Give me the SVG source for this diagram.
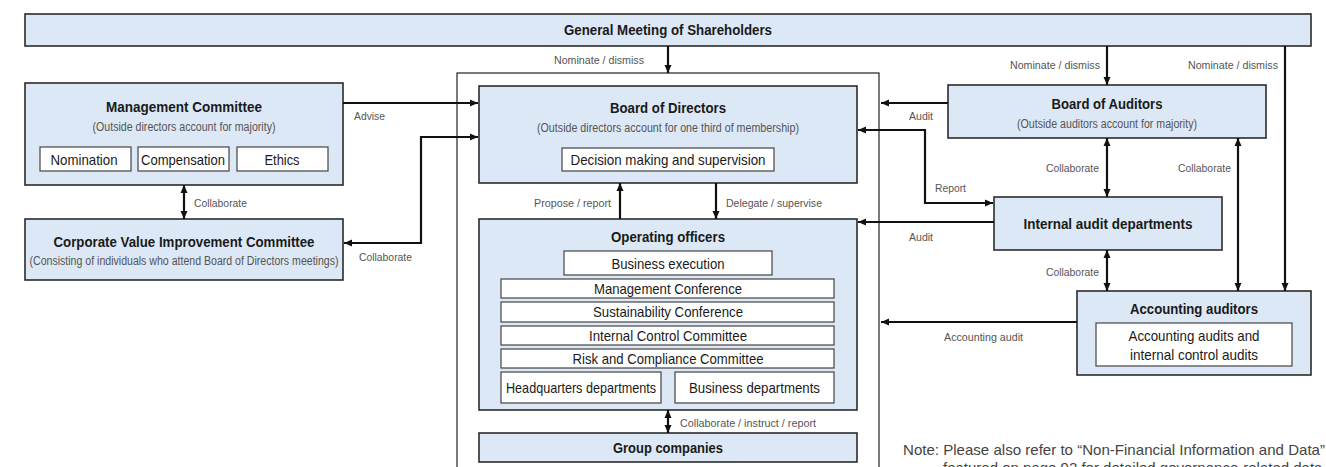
<svg xmlns="http://www.w3.org/2000/svg" width="1326" height="467" viewBox="0 0 1326 467">
<style>
  .box { fill:#dce8f5; stroke:#2b2b2b; stroke-width:1.6 }
  .inner { fill:#ffffff; stroke:#444; stroke-width:1.2 }
  .frame { fill:none; stroke:#333; stroke-width:1.3 }
  text { font-family:"Liberation Sans",Arial,sans-serif }
  .title { font-weight:bold; font-size:14px; fill:#1a1a1a; text-anchor:middle }
  .sub { font-size:12px; fill:#555; text-anchor:middle }
  .item { font-size:15px; fill:#1a1a1a; text-anchor:middle }
  .lbl { font-size:11.5px; fill:#555 }
  .end { text-anchor:end }
  .note { font-size:15px; fill:#444 }
  .conn { stroke:#111; stroke-width:2.2; fill:none }
</style>
<defs>
  <marker id="ah" viewBox="0 0 8 8" refX="8" refY="4" markerWidth="8" markerHeight="8" markerUnits="userSpaceOnUse" orient="auto-start-reverse">
    <path d="M0,0.5 L8,4 L0,7.5 z" fill="#111"/>
  </marker>
</defs>

<rect class="frame" x="457" y="73" width="422" height="420"/>

<g id="general-meeting">
  <rect class="box" x="25" y="14" width="1286" height="32"/>
  <text class="title" x="668" y="35" textLength="208" lengthAdjust="spacingAndGlyphs">General Meeting of Shareholders</text>
</g>

<g id="management-committee">
  <rect class="box" x="25" y="83" width="318" height="102"/>
  <text class="title" x="184" y="112" textLength="156" lengthAdjust="spacingAndGlyphs">Management Committee</text>
  <text class="sub" x="184" y="131" textLength="183" lengthAdjust="spacingAndGlyphs">(Outside directors account for majority)</text>
  <rect class="inner" x="40" y="147" width="91" height="24"/>
  <text class="item" x="84" y="165" textLength="67" lengthAdjust="spacingAndGlyphs">Nomination</text>
  <rect class="inner" x="138" y="147" width="91" height="24"/>
  <text class="item" x="183" y="165" textLength="84" lengthAdjust="spacingAndGlyphs">Compensation</text>
  <rect class="inner" x="237" y="147" width="91" height="24"/>
  <text class="item" x="282" y="165" textLength="35" lengthAdjust="spacingAndGlyphs">Ethics</text>
</g>

<g id="corporate-value">
  <rect class="box" x="25" y="219" width="318" height="61"/>
  <text class="title" x="184" y="247" textLength="261" lengthAdjust="spacingAndGlyphs">Corporate Value Improvement Committee</text>
  <text class="sub" x="184" y="265" textLength="309" lengthAdjust="spacingAndGlyphs">(Consisting of individuals who attend Board of Directors meetings)</text>
</g>

<g id="board-of-directors">
  <rect class="box" x="479" y="86" width="378" height="97"/>
  <text class="title" x="668" y="113" textLength="116" lengthAdjust="spacingAndGlyphs">Board of Directors</text>
  <text class="sub" x="668" y="132" textLength="262" lengthAdjust="spacingAndGlyphs">(Outside directors account for one third of membership)</text>
  <rect class="inner" x="562" y="148" width="212" height="23"/>
  <text class="item" x="668" y="165" textLength="195" lengthAdjust="spacingAndGlyphs">Decision making and supervision</text>
</g>

<g id="operating-officers">
  <rect class="box" x="479" y="219" width="378" height="191"/>
  <text class="title" x="668" y="242" textLength="114" lengthAdjust="spacingAndGlyphs">Operating officers</text>
  <rect class="inner" x="564" y="251" width="208" height="24"/>
  <text class="item" x="668" y="269" textLength="113" lengthAdjust="spacingAndGlyphs">Business execution</text>
  <rect class="inner" x="501" y="279" width="333" height="19"/>
  <text class="item" x="668" y="294" textLength="148" lengthAdjust="spacingAndGlyphs">Management Conference</text>
  <rect class="inner" x="501" y="302" width="333" height="20"/>
  <text class="item" x="668" y="317" textLength="150" lengthAdjust="spacingAndGlyphs">Sustainability Conference</text>
  <rect class="inner" x="501" y="326" width="333" height="19"/>
  <text class="item" x="668" y="341" textLength="158" lengthAdjust="spacingAndGlyphs">Internal Control Committee</text>
  <rect class="inner" x="501" y="349" width="333" height="19"/>
  <text class="item" x="668" y="364" textLength="191" lengthAdjust="spacingAndGlyphs">Risk and Compliance Committee</text>
  <rect class="inner" x="501" y="372" width="160" height="31"/>
  <text class="item" x="581" y="393" textLength="150" lengthAdjust="spacingAndGlyphs">Headquarters departments</text>
  <rect class="inner" x="675" y="372" width="159" height="31"/>
  <text class="item" x="754.5" y="393" textLength="131" lengthAdjust="spacingAndGlyphs">Business departments</text>
</g>

<g id="group-companies">
  <rect class="box" x="479" y="433" width="378" height="29"/>
  <text class="title" x="668" y="453" textLength="110" lengthAdjust="spacingAndGlyphs">Group companies</text>
</g>

<g id="board-of-auditors">
  <rect class="box" x="948" y="85" width="318" height="53"/>
  <text class="title" x="1107" y="109" textLength="111" lengthAdjust="spacingAndGlyphs">Board of Auditors</text>
  <text class="sub" x="1107" y="128" textLength="180" lengthAdjust="spacingAndGlyphs">(Outside auditors account for majority)</text>
</g>

<g id="internal-audit">
  <rect class="box" x="994" y="197" width="228" height="53"/>
  <text class="title" x="1108" y="229" textLength="169" lengthAdjust="spacingAndGlyphs">Internal audit departments</text>
</g>

<g id="accounting-auditors">
  <rect class="box" x="1077" y="291" width="234" height="84"/>
  <text class="title" x="1194" y="314" textLength="128" lengthAdjust="spacingAndGlyphs">Accounting auditors</text>
  <rect class="inner" x="1096" y="323" width="196" height="43"/>
  <text class="item" x="1194" y="341" textLength="131" lengthAdjust="spacingAndGlyphs">Accounting audits and</text>
  <text class="item" x="1194" y="360" textLength="128" lengthAdjust="spacingAndGlyphs">internal control audits</text>
</g>

<g id="connectors">
  <path class="conn" d="M668,46 V73" marker-end="url(#ah)"/>
  <path class="conn" d="M1107,46 V85" marker-end="url(#ah)"/>
  <path class="conn" d="M1285,46 V291" marker-end="url(#ah)"/>
  <path class="conn" d="M343,103 H478" marker-end="url(#ah)"/>
  <path class="conn" d="M184,185 V219" marker-start="url(#ah)" marker-end="url(#ah)"/>
  <path class="conn" d="M478,137 H421 V243 H344" marker-start="url(#ah)" marker-end="url(#ah)"/>
  <path class="conn" d="M948,103 H881" marker-end="url(#ah)"/>
  <path class="conn" d="M858,130 H925 V203 H993" marker-start="url(#ah)" marker-end="url(#ah)"/>
  <path class="conn" d="M994,222 H858" marker-end="url(#ah)"/>
  <path class="conn" d="M1107,138 V197" marker-start="url(#ah)" marker-end="url(#ah)"/>
  <path class="conn" d="M1238,138 V291" marker-start="url(#ah)" marker-end="url(#ah)"/>
  <path class="conn" d="M1107,250 V291" marker-start="url(#ah)" marker-end="url(#ah)"/>
  <path class="conn" d="M1077,322 H881" marker-end="url(#ah)"/>
  <path class="conn" d="M620,219 V183" marker-end="url(#ah)"/>
  <path class="conn" d="M716,183 V219" marker-end="url(#ah)"/>
  <path class="conn" d="M668,410 V433" marker-start="url(#ah)" marker-end="url(#ah)"/>

  <text class="lbl end" x="644" y="64" textLength="90" lengthAdjust="spacingAndGlyphs">Nominate / dismiss</text>
  <text class="lbl end" x="1100" y="69" textLength="90" lengthAdjust="spacingAndGlyphs">Nominate / dismiss</text>
  <text class="lbl end" x="1278" y="69" textLength="90" lengthAdjust="spacingAndGlyphs">Nominate / dismiss</text>
  <text class="lbl" x="194" y="207" textLength="53" lengthAdjust="spacingAndGlyphs">Collaborate</text>
  <text class="lbl" x="354" y="120" textLength="31" lengthAdjust="spacingAndGlyphs">Advise</text>
  <text class="lbl" x="359" y="261" textLength="53" lengthAdjust="spacingAndGlyphs">Collaborate</text>
  <text class="lbl end" x="611" y="207" textLength="77" lengthAdjust="spacingAndGlyphs">Propose / report</text>
  <text class="lbl" x="726" y="207" textLength="96" lengthAdjust="spacingAndGlyphs">Delegate / supervise</text>
  <text class="lbl" x="680" y="427" textLength="136" lengthAdjust="spacingAndGlyphs">Collaborate / instruct / report</text>
  <text class="lbl" x="909" y="120" textLength="24" lengthAdjust="spacingAndGlyphs">Audit</text>
  <text class="lbl" x="935" y="192" textLength="31" lengthAdjust="spacingAndGlyphs">Report</text>
  <text class="lbl" x="909" y="241" textLength="24" lengthAdjust="spacingAndGlyphs">Audit</text>
  <text class="lbl end" x="1099" y="172" textLength="53" lengthAdjust="spacingAndGlyphs">Collaborate</text>
  <text class="lbl end" x="1231" y="172" textLength="53" lengthAdjust="spacingAndGlyphs">Collaborate</text>
  <text class="lbl end" x="1099" y="276" textLength="53" lengthAdjust="spacingAndGlyphs">Collaborate</text>
  <text class="lbl" x="944" y="341" textLength="79" lengthAdjust="spacingAndGlyphs">Accounting audit</text>
</g>

<text class="note" x="903" y="455" textLength="422" lengthAdjust="spacingAndGlyphs">Note: Please also refer to “Non-Financial Information and Data”</text>
<text class="note" x="943" y="473">featured on page 92 for detailed governance-related data</text>
</svg>
